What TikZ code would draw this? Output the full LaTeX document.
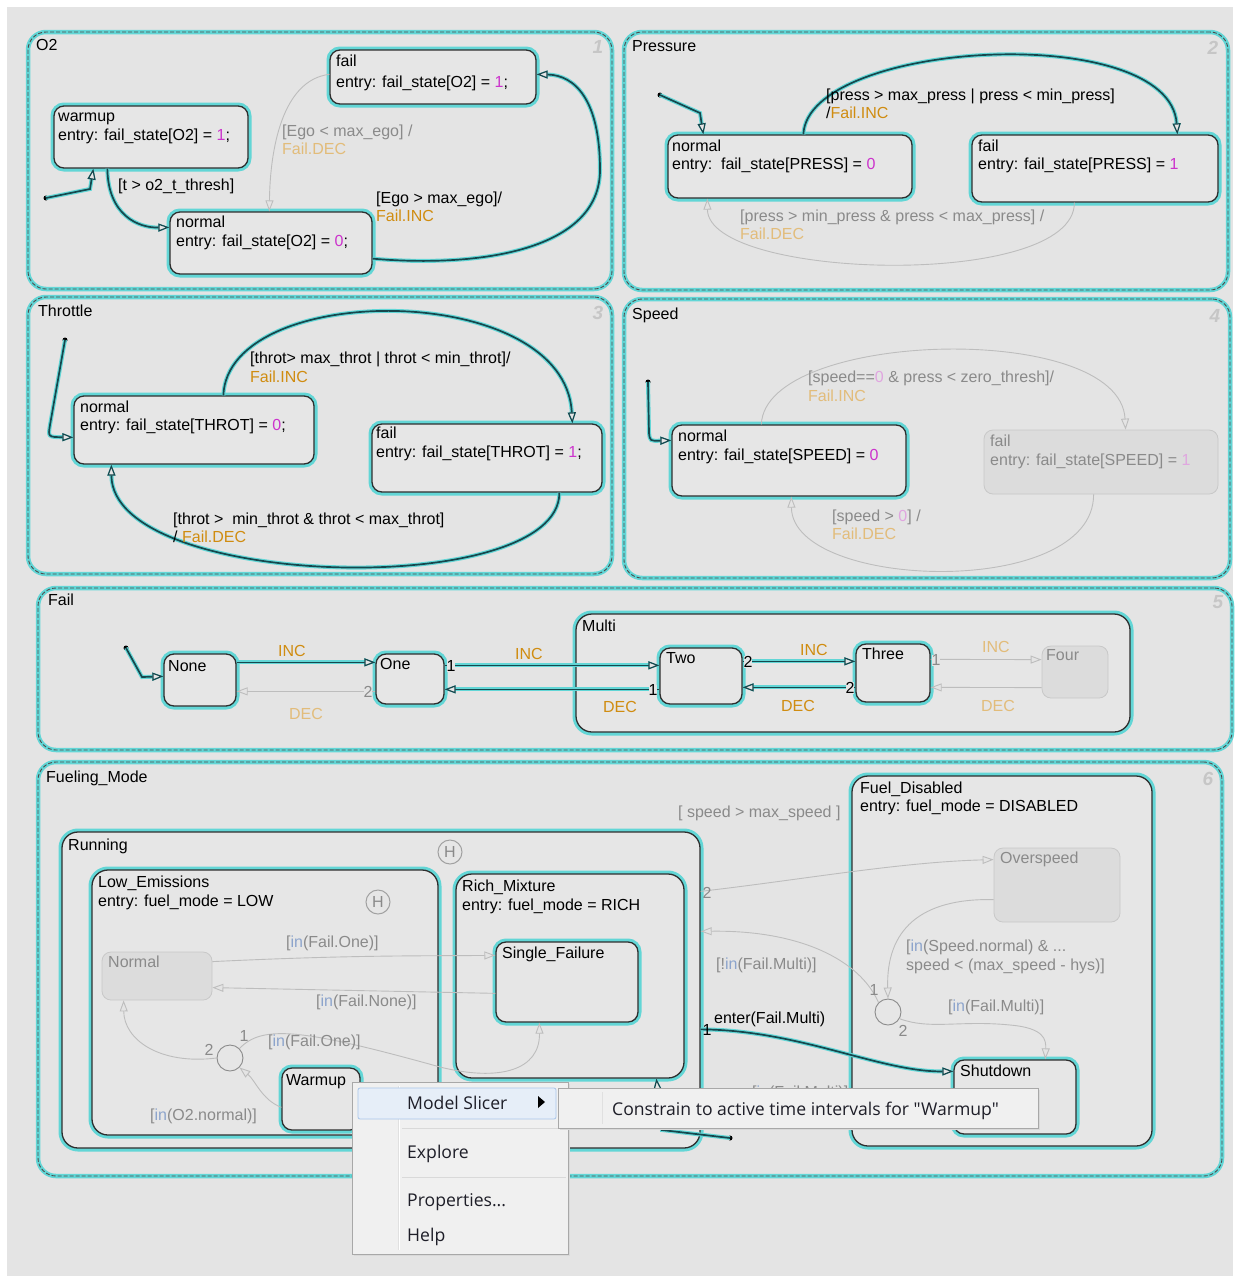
\documentclass[tikz,border=0pt]{standalone}
\usepackage{fontspec}
\setmainfont{Liberation Sans}
\newfontfamily\mfont{Open Sans}
\usetikzlibrary{arrows.meta,calc,fit}
\definecolor{bgc}{HTML}{E4E4E4}
\definecolor{glow}{HTML}{62D6D6}
\definecolor{dk}{HTML}{2E2E2E}
\definecolor{cn}{HTML}{16474D}
\definecolor{ina}{HTML}{BDBDBD}
\definecolor{gtx}{HTML}{8A8A8A}
\definecolor{org}{HTML}{D08C10}
\definecolor{lorg}{HTML}{E2BC7A}
\definecolor{mag}{HTML}{CC33CC}
\definecolor{lmag}{HTML}{E0A6E0}
\definecolor{inb}{HTML}{8CA4CC}
\definecolor{numc}{HTML}{C6C6C6}
\definecolor{stf}{HTML}{E6E6E6}
\definecolor{istf}{HTML}{DCDCDC}
\definecolor{istb}{HTML}{C8C8C8}
\definecolor{mnf}{HTML}{F0F0F0}
\definecolor{mnb}{HTML}{A8A8A8}
\definecolor{hlf}{HTML}{E6EEF8}
\definecolor{hlb}{HTML}{A9C6EA}
\definecolor{mtx}{HTML}{1E1E28}
\newcommand\fs{\fontsize{16}{19}\selectfont}
\tikzset{
 chart/.style={draw=dk!85, dash pattern=on 4pt off 2pt, line width=0.9pt, rounded corners=18pt,
   preaction={draw=glow, line width=4.5pt, solid}, inner sep=0pt},
 stbox/.style={draw=dk, line width=1.3pt, rounded corners=10pt, fill=stf,
   preaction={draw=glow, line width=7pt}, inner sep=0pt},
 supbox/.style={stbox, rounded corners=16pt},
 istbox/.style={draw=istb, line width=0.8pt, rounded corners=9pt, fill=istf, inner sep=0pt},
 tx/.style={font=\fs, text=black, inner sep=0pt, anchor=base west},
 gt/.style={tx, text=gtx},
 ot/.style={tx, text=org},
 lot/.style={tx, text=lorg},
 ctx/.style={font=\fs, inner sep=0pt, anchor=center},
 cnum/.style={font=\fontsize{19}{19}\selectfont\bfseries\itshape, text=numc, inner sep=0pt},
 dot/.style={circle, fill=black, inner sep=0pt, minimum size=5pt},
 acttip/.style={-{Triangle[length=11pt,width=8pt,fill=stf,line width=1.2pt]}},
 act/.style={draw=cn, line width=1.7pt, acttip,
   preaction={draw=glow, line width=4pt, acttip}},
 ian/.style={draw=ina, line width=0.9pt, -{Triangle[length=11pt,width=8pt,fill=bgc]}},
 junc/.style={circle, draw=gtx, line width=0.9pt, minimum size=26pt, inner sep=0pt},
 hist/.style={circle, draw=gtx!80, line width=1pt, minimum size=24pt, inner sep=0pt, text=gtx, font=\fs},
 mtext/.style={font=\mfont\fontsize{17.6}{20}\selectfont, text=mtx, inner sep=0pt, anchor=base west},
}
\begin{document}
\begin{tikzpicture}[x=1pt,y=-1pt]
\useasboundingbox (0,0) rectangle (1236,1278);
\fill[white] (0,0) rectangle (1236,1278);
\fill[bgc] (7,7) rectangle (1233,1276);

% ================= O2 =================
\node[chart, fit={(28,32) (612,289)}] (o2) {};
\node[tx] (o2t) at (36,50) {O2};
\node[cnum] (o2n) at (598,47) {1};
\node[stbox, fit={(330,50) (536,104)}] (o2fail) {};
\node[stbox, fit={(54,106) (248,168)}] (o2warm) {};
\node[stbox, fit={(170,212) (372,274)}] (o2norm) {};
\node[tx] (o2failA) at (336,66) {fail};
\node[tx] (o2failB) at (336,87) {entry: fail\_state[O2] = \textcolor{mag}{1};};
\node[tx] (o2warmA) at (58,121) {warmup};
\node[tx] (o2warmB) at (58,140) {entry: fail\_state[O2] = \textcolor{mag}{1};};
\node[tx] (o2normA) at (176,227) {normal};
\node[tx] (o2normB) at (176,246) {entry: fail\_state[O2] = \textcolor{mag}{0};};
\node[dot] (o2i) at (46,198) {};
\draw[act] (o2i.center) -- (90,189) -- ($(o2warm.south west)+(40,0)$);
\draw[act] ($(o2warm.south west)+(54,0)$) .. controls (108,215) and (138,228) .. ($(o2norm.north west)+(0,16)$);
\node[tx] (o2l1) at (118,190) {[t > o2\_t\_thresh]};
\draw[ian] ($(o2fail.north west)+(0,25)$) .. controls (282,80) and (270,150) .. ($(o2norm.north west)+(100,0)$);
\node[gt] (o2l2) at (282,136) {[Ego < max\_ego] /};
\node[lot] (o2l3) at (282,154) {Fail.DEC};
\draw[act] ($(o2norm.south east)+(0,-16)$) .. controls (480,268) and (600,250) .. (600,170) .. controls (600,100) and (575,75) .. ($(o2fail.north east)+(0,25)$);
\node[tx] (o2l4) at (376,203) {[Ego > max\_ego]/};
\node[ot] (o2l5) at (376,221) {Fail.INC};

% ================= Pressure =================
\node[chart, fit={(624,32) (1228,290)}] (pr) {};
\node[tx] (prt) at (632,51) {Pressure};
\node[cnum] (prn) at (1213,48) {2};
\node[stbox, fit={(668,135) (912,198)}] (pnorm) {};
\node[stbox, fit={(972,135) (1218,202)}] (pfail) {};
\node[tx] (pnormA) at (672,151) {normal};
\node[tx] (pnormB) at (672,169) {entry:\ \ fail\_state[PRESS] = \textcolor{mag}{0}};
\node[tx] (pfailA) at (978,151) {fail};
\node[tx] (pfailB) at (978,169) {entry: fail\_state[PRESS] = \textcolor{mag}{1}};
\node[dot] (pri) at (660,95) {};
\draw[act] (pri.center) -- (700,113) -- ($(pnorm.north west)+(36,0)$);
\draw[act] ($(pnorm.north west)+(136,0)$) .. controls (808,40) and (1170,20) .. ($(pfail.north west)+(206,0)$);
\node[tx] (prl1) at (826,100) {[press > max\_press | press < min\_press]};
\node[tx] (prl2) at (826,118) {/\textcolor{org}{Fail.INC}};
\draw[ian] ($(pfail.south west)+(103,0)$) .. controls (1075,290) and (708,280) .. ($(pnorm.south west)+(40,0)$);
\node[gt] (prl3) at (740,221) {[press > min\_press \& press < max\_press] /};
\node[lot] (prl4) at (740,239) {Fail.DEC};

% ================= Throttle =================
\node[chart, fit={(28,297) (612,574)}] (th) {};
\node[tx] (tht) at (38,316) {Throttle};
\node[cnum] (thn) at (598,313) {3};
\node[stbox, fit={(74,396) (314,464)}] (tnorm) {};
\node[stbox, fit={(372,424) (602,492)}] (tfail) {};
\node[tx] (tnormA) at (80,412) {normal};
\node[tx] (tnormB) at (80,430) {entry: fail\_state[THROT] = \textcolor{mag}{0};};
\node[tx] (tfailA) at (376,438) {fail};
\node[tx] (tfailB) at (376,457) {entry: fail\_state[THROT] = \textcolor{mag}{1};};
\node[dot] (thi) at (65,340) {};
\draw[act] (thi.center) -- (50,425) .. controls (48,437) .. ($(tnorm.north west)+(0,42)$);
\draw[act] ($(tnorm.north west)+(150,0)$) .. controls (228,280) and (565,280) .. ($(tfail.north west)+(201,0)$);
\node[tx] (thl1) at (250,363) {[throt> max\_throt | throt < min\_throt]/};
\node[ot] (thl2) at (250,382) {Fail.INC};
\draw[act] ($(tfail.south west)+(188,0)$) .. controls (560,600) and (112,590) .. ($(tnorm.south west)+(38,0)$);
\node[tx] (thl3) at (173,524) {[throt >\ \ min\_throt \& throt < max\_throt]};
\node[tx] (thl4) at (173,542) {/ \textcolor{org}{Fail.DEC}};

% ================= Speed =================
\node[chart, fit={(624,299) (1230,578)}] (sp) {};
\node[tx] (spt) at (632,319) {Speed};
\node[cnum] (spn) at (1215,316) {4};
\node[stbox, fit={(672,425) (906,496)}] (snorm) {};
\node[istbox, fit={(984,430) (1218,494)}] (sfail) {};
\node[tx] (snormA) at (678,441) {normal};
\node[tx] (snormB) at (678,460) {entry: fail\_state[SPEED] = \textcolor{mag}{0}};
\node[gt] (sfailA) at (990,446) {fail};
\node[gt] (sfailB) at (990,465) {entry: fail\_state[SPEED] = \textcolor{lmag}{1}};
\node[dot] (spi) at (648,382) {};
\draw[act] (spi.center) -- (649,433) .. controls (650,441) .. ($(snorm.north west)+(0,16)$);
\draw[ian] ($(snorm.north west)+(90,0)$) .. controls (765,330) and (1120,320) .. ($(sfail.north west)+(142,0)$);
\node[gt] (spl1) at (808,382) {[speed==\textcolor{lmag}{0} \& press < zero\_thresh]/};
\node[lot] (spl2) at (808,401) {Fail.INC};
\draw[ian] ($(sfail.south west)+(110,0)$) .. controls (1094,600) and (792,590) .. ($(snorm.south west)+(120,0)$);
\node[gt] (spl3) at (832,521) {[speed > \textcolor{lmag}{0}] /};
\node[lot] (spl4) at (832,539) {Fail.DEC};

% ================= Fail =================
\node[chart, fit={(38,588) (1232,750)}] (fl) {};
\node[tx] (flt) at (48,605) {Fail};
\node[cnum] (fln) at (1218,602) {5};
\node[supbox, fit={(576,614) (1130,732)}] (fmulti) {};
\node[tx] (fmultiA) at (582,631) {Multi};
\node[stbox, fit={(164,654) (236,706)}] (fnone) {};
\node[stbox, fit={(376,654) (444,704)}] (fone) {};
\node[stbox, fit={(660,648) (742,704)}] (ftwo) {};
\node[stbox, fit={(856,644) (930,702)}] (fthree) {};
\node[istbox, fit={(1042,646) (1108,698)}] (ffour) {};
\node[tx] (fnoneA) at (168,671) {None};
\node[tx] (foneA) at (380,669) {One};
\node[tx] (ftwoA) at (666,663) {Two};
\node[tx] (fthreeA) at (862,659) {Three};
\node[gt] (ffourA) at (1046,660) {Four};
\node[dot] (fli) at (126,648) {};
\draw[act] (fli.center) -- (142,677) -- ($(fnone.north west)+(0,23)$);
\draw[act] ($(fnone.north east)+(0,9)$) -- ($(fone.north west)+(0,9)$);
\draw[ian] ($(fone.north west)+(0,38)$) -- ($(fnone.north east)+(0,38)$);
\draw[act] ($(fone.north east)+(0,12)$) -- ($(ftwo.north west)+(0,18)$);
\draw[act] ($(ftwo.north west)+(0,42)$) -- ($(fone.north east)+(0,36)$);
\draw[act] ($(ftwo.north east)+(0,14)$) -- ($(fthree.north west)+(0,18)$);
\draw[act] ($(fthree.north west)+(0,44)$) -- ($(ftwo.north east)+(0,40)$);
\draw[ian] ($(fthree.north east)+(0,16)$) -- ($(ffour.north west)+(0,14)$);
\draw[ian] ($(ffour.north west)+(0,42)$) -- ($(fthree.north east)+(0,44)$);
\node[ctx, text=org] (fl1) at (292,651) {INC};
\node[ctx, text=lorg] (fl2) at (306,714) {DEC};
\node[ctx, text=org] (fl3) at (529,654) {INC};
\node[ctx, text=org] (fl4) at (620,707) {DEC};
\node[ctx, text=org] (fl5) at (814,650) {INC};
\node[ctx, text=org] (fl6) at (798,706) {DEC};
\node[ctx, text=lorg] (fl7) at (996,647) {INC};
\node[ctx, text=lorg] (fl8) at (998,706) {DEC};
\node[ctx, text=gtx, fill=bgc] (fn1) at (368,692) {2};
\node[ctx, fill=bgc] (fn2) at (451,666) {1};
\node[ctx, fill=bgc] (fn3) at (653,690) {1};
\node[ctx, fill=bgc] (fn4) at (748,662) {2};
\node[ctx, fill=bgc] (fn5) at (850,688) {2};
\node[ctx, text=gtx, fill=bgc] (fn6) at (936,660) {1};

% ================= Fueling_Mode =================
\node[chart, fit={(38,762) (1222,1176)}] (fm) {};
\node[tx] (fmt) at (46,782) {Fueling\_Mode};
\node[cnum] (fmn) at (1208,779) {6};
\node[supbox, fit={(62,832) (700,1148)}] (frun) {};
\node[tx] (frunA) at (68,850) {Running};
\node[hist] (fh1) at (450,852) {H};
\node[supbox, fit={(92,870) (438,1135)}] (flow) {};
\node[tx] (flowA) at (98,887) {Low\_Emissions};
\node[tx] (flowB) at (98,906) {entry: fuel\_mode = LOW};
\node[hist] (fh2) at (378,902) {H};
\node[istbox, fit={(102,952) (212,1000)}] (fnormal) {};
\node[gt] (fnormalA) at (108,967) {Normal};
\node[supbox, fit={(456,874) (684,1078)}] (frich) {};
\node[tx] (frichA) at (462,891) {Rich\_Mixture};
\node[tx] (frichB) at (462,910) {entry: fuel\_mode = RICH};
\node[stbox, fit={(496,942) (638,1022)}] (fsingle) {};
\node[tx] (fsingleA) at (502,958) {Single\_Failure};
\node[stbox, fit={(282,1068) (360,1130)}] (fwarm) {};
\node[tx] (fwarmA) at (286,1085) {Warmup};
\node[junc] (j1) at (230,1058) {};
\node[supbox, fit={(852,776) (1152,1146)}] (fdis) {};
\node[tx] (fdisA) at (860,793) {Fuel\_Disabled};
\node[tx] (fdisB) at (860,811) {entry: fuel\_mode = DISABLED};
\node[istbox, fit={(994,848) (1120,922)}] (fover) {};
\node[gt] (foverA) at (1000,863) {Overspeed};
\node[stbox, fit={(954,1060) (1076,1134)}] (fshut) {};
\node[tx] (fshutA) at (960,1076) {Shutdown};
\node[junc] (j2) at (888,1012) {};
% transitions inside Running
\draw[ian] ($(fnormal.north east)+(0,10)$) .. controls (350,955) and (420,956) .. ($(fsingle.north west)+(0,14)$);
\node[gt] (fl9) at (286,947) {[\textcolor{inb}{in}(Fail.One)]};
\draw[ian] ($(fsingle.north west)+(0,52)$) -- ($(fnormal.north east)+(0,36)$);
\node[gt] (fl10) at (316,1006) {[\textcolor{inb}{in}(Fail.None)]};
\draw[ian] (j1.45) .. controls (262,1025) and (300,1028) .. (440,1067) .. controls (500,1082) and (540,1070) .. ($(fsingle.south west)+(44,0)$);
\node[gt] (fl11) at (268,1046) {[\textcolor{inb}{in}(Fail.One)]};
\node[ctx, text=gtx] (fn7) at (244,1036) {1};
\draw[ian] (j1.west) .. controls (160,1065) and (124,1040) .. ($(fnormal.south west)+(22,0)$);
\node[ctx, text=gtx] (fn8) at (209,1050) {2};
\draw[ian] ($(fwarm.north west)+(0,40)$) .. controls (262,1100) and (255,1080) .. (j1.-45);
\node[gt] (fl12) at (150,1120) {[\textcolor{inb}{in}(O2.normal)]};
% transitions between Running and Fuel_Disabled
\draw[ian] ($(frun.north east)+(0,60)$) .. controls (800,880) and (900,862) .. ($(fover.north west)+(0,12)$);
\node[ctx, text=gtx] (fn9) at (707,893) {2};
\node[gt] (fl13) at (678,817) {[ speed > max\_speed ]};
\draw[ian] (j2.135) .. controls (860,960) and (800,930) .. ($(frun.north east)+(0,100)$);
\node[ctx, text=gtx] (fn10) at (874,990) {1};
\node[gt] (fl14) at (716,969) {[!\textcolor{inb}{in}(Fail.Multi)]};
\draw[ian] ($(fover.north west)+(0,52)$) .. controls (920,898) and (886,930) .. (j2.north);
\node[gt] (fl15) at (906,951) {[\textcolor{inb}{in}(Speed.normal) \& ...};
\node[gt] (fl16) at (906,970) {speed < (max\_speed - hys)]};
\draw[ian] (j2.-30) .. controls (930,1030) and (960,1020) .. (1010,1025) .. controls (1045,1028) and (1046,1040) .. ($(fshut.north west)+(92,0)$);
\node[ctx, text=gtx] (fn11) at (903,1031) {2};
\node[gt] (fl17) at (948,1011) {[\textcolor{inb}{in}(Fail.Multi)]};
\draw[act] ($(frun.north east)+(0,198)$) .. controls (800,1030) and (880,1072) .. ($(fshut.north west)+(0,12)$);
\node[ctx] (fn12) at (707,1030) {1};
\node[tx] (fl18) at (714,1023) {enter(Fail.Multi)};
\node[gt] (fl19) at (752,1097) {[\textcolor{inb}{in}(Fail.Multi)]};
\node[dot] (fmi) at (730,1138) {};
\draw[act] (fmi.center) -- (662,1130) -- ($(frich.south west)+(201,0)$);

% ================= Context menu =================
\fill[black!15] (354,1084) rectangle (570,1256);
\node[fit={(352,1082) (568,1254)}, draw=mnb, fill=mnf, line width=0.8pt, inner sep=0pt] (menu) {};
\draw[white, line width=1pt] (399,1086) -- (399,1250);
\draw[black!12, line width=0.8pt] (398,1086) -- (398,1250);
\node[fit={(358,1088) (556,1119)}, draw=hlb, fill=hlf, rounded corners=2pt, line width=0.8pt, inner sep=0pt] (hl) {};
\draw[black!15, line width=0.8pt] (402,1128) -- (566,1128);
\draw[black!15, line width=0.8pt] (402,1177) -- (566,1177);
\node[mtext] (m1) at (407,1109) {Model Slicer};
\fill[black] (538,1096) -- (545,1102) -- (538,1108) -- cycle;
\node[mtext] (m2) at (407,1158) {Explore};
\node[mtext] (m3) at (407,1206) {Properties...};
\node[mtext] (m4) at (407,1241) {Help};
\fill[black!15] (560,1090) rectangle (1040,1130);
\node[fit={(558,1088) (1038,1128)}, draw=mnb, fill=mnf, line width=0.8pt, inner sep=0pt] (sub) {};
\draw[black!12, line width=0.8pt] (602,1092) -- (602,1124);
\node[mtext] (m5) at (612,1115) {Constrain to active time intervals for "Warmup"};
\end{tikzpicture}
\end{document}
